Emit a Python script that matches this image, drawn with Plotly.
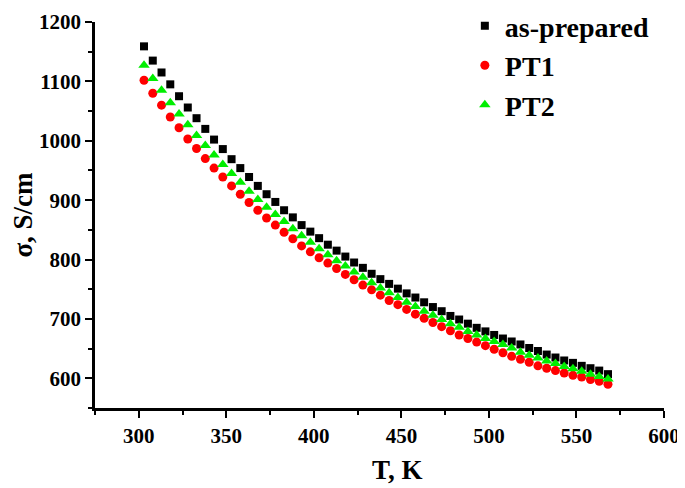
import plotly.graph_objects as go

temperature_K = [303, 308, 313, 318, 323, 328, 333, 338, 343, 348, 353, 358, 363, 368, 373, 378, 383, 388,
                 393, 398, 403, 408, 413, 418, 423, 428, 433, 438, 443, 448, 453, 458, 463, 468, 473, 478,
                 483, 488, 493, 498, 503, 508, 513, 518, 523, 528, 533, 538, 543, 548, 553, 558, 563, 568]

sigma_as_prepared = [1159, 1135, 1115, 1095, 1075, 1056, 1038, 1020, 1002, 986, 969, 954, 939, 924, 910, 897, 883, 871,
                     858, 847, 836, 825, 815, 805, 795, 786, 776, 767, 759, 751, 743, 736, 728, 720, 713, 705,
                     699, 692, 685, 679, 673, 667, 662, 657, 651, 646, 640, 635, 630, 626, 621, 617, 613, 607]

sigma_PT1 = [1102, 1080, 1060, 1040, 1022, 1003, 987, 970, 954, 939, 924, 910, 896, 883, 870, 858, 846, 835,
             823, 813, 803, 794, 785, 775, 766, 757, 749, 740, 731, 724, 716, 708, 701, 694, 687, 680,
             673, 667, 661, 655, 649, 643, 637, 632, 627, 621, 617, 613, 609, 605, 602, 598, 595, 590]

sigma_PT2 = [1127, 1105, 1085, 1064, 1045, 1027, 1009, 992, 976, 960, 945, 930, 915, 901, 888, 876, 864, 852,
             840, 829, 818, 808, 798, 789, 779, 770, 761, 752, 744, 736, 728, 721, 713, 706, 699, 692,
             686, 679, 673, 667, 662, 657, 651, 644, 639, 634, 629, 625, 620, 616, 612, 607, 603, 599]

series_names = ["as-prepared", "PT1", "PT2"]
x_tick_vals = [300, 350, 400, 450, 500, 550, 600]
y_tick_vals = [600, 700, 800, 900, 1000, 1100, 1200]

FONT = "Liberation Serif, Times New Roman, serif"

fig = go.Figure()
fig.add_trace(go.Scatter(x=temperature_K, y=sigma_as_prepared, mode="markers", name=series_names[0],
                         marker=dict(symbol="square", size=8, color="#000000")))
fig.add_trace(go.Scatter(x=temperature_K, y=sigma_PT1, mode="markers", name=series_names[1],
                         marker=dict(symbol="circle", size=9, color="#ff0000")))
fig.add_trace(go.Scatter(x=temperature_K, y=sigma_PT2, mode="markers", name=series_names[2],
                         marker=dict(symbol="triangle-up", size=10, color="#00ee00")))

axis_common = dict(
    showline=True, linecolor="black", linewidth=2.5, mirror=False,
    showgrid=False, zeroline=False, automargin=False, ticklabeloverflow="allow",
    ticks="outside", ticklen=7, tickwidth=2, tickcolor="black",
    tickfont=dict(family=FONT, size=21, color="black", weight="bold"),
    minor=dict(ticks="outside", ticklen=4, tickwidth=2, tickcolor="black", showgrid=False),
)

fig.update_xaxes(range=[275, 600], tickvals=x_tick_vals, minor_dtick=25, **axis_common)
fig.update_yaxes(range=[550, 1200], tickvals=y_tick_vals, minor_dtick=50,
                 title=dict(text="σ, S/cm", font=dict(family=FONT, size=27, color="black", weight="bold"),
                            standoff=17),
                 **axis_common)

fig.add_annotation(text="T, K", xref="paper", yref="paper", x=0.532, y=-0.161,
                   showarrow=False, xanchor="center", yanchor="middle",
                   font=dict(family=FONT, size=27, color="black", weight="bold"))

# The page body adds an 8px margin, so the figure is sized to fit the 685x488 window.
fig.update_layout(
    width=677, height=480,
    margin=dict(l=87, r=21, t=14, b=80, autoexpand=False),
    paper_bgcolor="white", plot_bgcolor="white",
    legend=dict(x=0.65, y=1.054, xanchor="left", yanchor="top", bgcolor="rgba(0,0,0,0)",
                font=dict(family=FONT, size=28, color="black", weight="bold"),
                itemsizing="trace", tracegroupgap=0),
    showlegend=True,
)

fig.write_html("out.html")
